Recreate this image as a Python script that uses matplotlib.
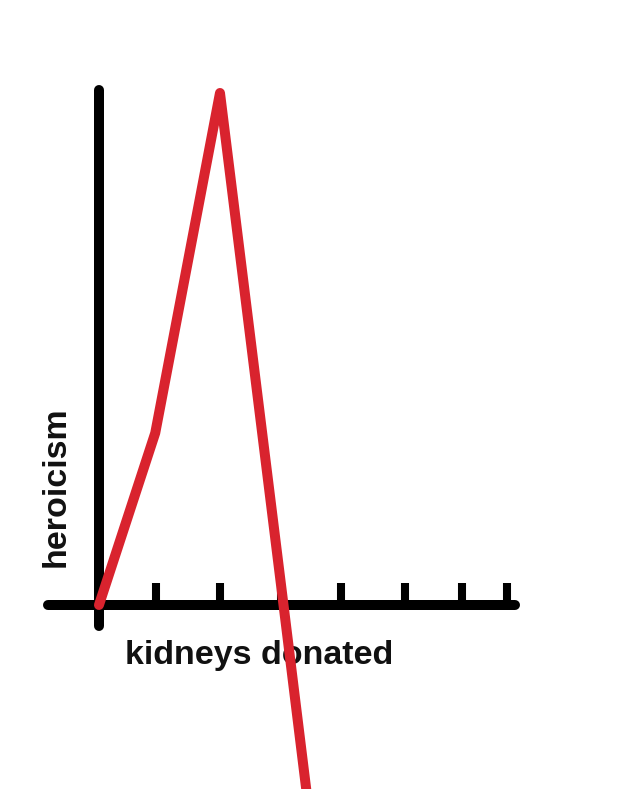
import matplotlib
matplotlib.use("Agg")
import matplotlib.pyplot as plt

# Data
kidneys = [0, 0.93, 2.0, 3.05, 3.53]
heroism = [0, 3.36, 10.0, 0, -4.6]
tick_positions = [0.95, 2.0, 3.01, 4.0, 5.05, 6.0, 6.75]
x_label = "kidneys donated"
y_label = "heroicism"

fig = plt.figure(figsize=(6.3, 7.89), dpi=100)
fig.patch.set_facecolor("white")
ax = fig.add_axes([0, 0, 1, 1])
ax.set_facecolor("white")

ax.set_xlim(-1.636, 8.777)
ax.set_ylim(-3.594, 11.816)

for s in ["top", "right"]:
    ax.spines[s].set_visible(False)

ax.spines["left"].set_position(("data", 0))
ax.spines["bottom"].set_position(("data", 0))
ax.spines["left"].set_bounds(-0.41, 10.05)
ax.spines["bottom"].set_bounds(-0.84, 6.88)
for s in ["left", "bottom"]:
    ax.spines[s].set_linewidth(7.2)
    ax.spines[s].set_color("black")
    ax.spines[s].set_capstyle("round")
    ax.spines[s].set_zorder(2)

ax.set_xticks(tick_positions)
ax.set_xticklabels([])
ax.set_yticks([])
ax.tick_params(axis="x", direction="in", length=15.8, width=5.8, color="black")

ax.plot(kidneys, heroism, color="#d9232e", linewidth=7.2,
        solid_joinstyle="round", solid_capstyle="round", zorder=5, clip_on=False)

font = dict(family=["Liberation Sans", "DejaVu Sans"], weight="bold", size=24.5, color="#111111")
ax.text(0.43, -1.15, x_label, ha="left", va="baseline", zorder=3, **font)
ax.text(-0.71, 2.32, y_label, ha="center", va="center", rotation=90, zorder=3, **font)

fig.savefig("out.png", dpi=100, facecolor="white")
